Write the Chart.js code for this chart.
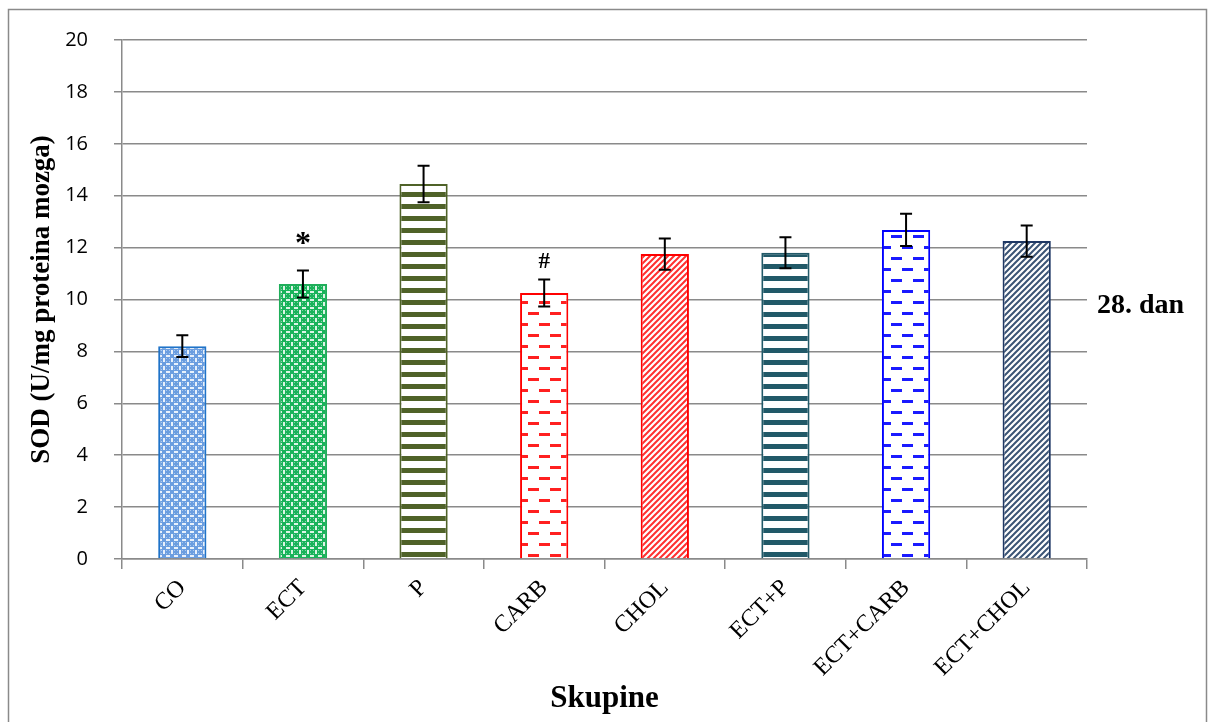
<!DOCTYPE html>
<html>
<head>
<meta charset="utf-8">
<script src="https://cdn.jsdelivr.net/npm/chart.js@4"></script>
<style>
  html, body { margin: 0; padding: 0; background: #fff; }
  #wrap { width: 1208px; height: 722px; }
</style>
</head>
<body>
<div id="wrap"><canvas id="chart" width="1208" height="722"></canvas></div>
<script>
const categories = ["CO", "ECT", "P", "CARB", "CHOL", "ECT+P", "ECT+CARB", "ECT+CHOL"];
const sodValues = [8.2, 10.6, 14.45, 10.25, 11.75, 11.8, 12.68, 12.25];
const sodErrors = [0.42, 0.52, 0.7, 0.52, 0.6, 0.6, 0.62, 0.6];
const marks = ["", "*", "", "#", "", "", "", ""];
const yTicks = [0, 2, 4, 6, 8, 10, 12, 14, 16, 18, 20];

// pattern helpers
function tile(w, h, draw) {
  const c = document.createElement("canvas");
  c.width = w; c.height = h;
  const g = c.getContext("2d");
  draw(g, w, h);
  return document.getElementById("chart").getContext("2d").createPattern(c, "repeat");
}
function lattice(base) {
  return tile(8, 8, (g) => {
    g.fillStyle = base;
    g.fillRect(0, 0, 8, 8);
    g.fillStyle = "rgba(255,255,255,0.85)";
    g.fillRect(3, 0, 2, 2);
    g.fillRect(3, 6, 2, 2);
    g.fillRect(0, 3, 2, 2);
    g.fillRect(6, 3, 2, 2);
    g.fillStyle = "rgba(255,255,255,0.45)";
    g.fillRect(1, 1, 1, 1); g.fillRect(6, 1, 1, 1);
    g.fillRect(1, 6, 1, 1); g.fillRect(6, 6, 1, 1);
  });
}
function stripes(color) {
  return tile(12, 12, (g) => {
    g.fillStyle = "#fff";
    g.fillRect(0, 0, 12, 12);
    g.fillStyle = color;
    g.fillRect(0, 0, 12, 5);
  });
}
function dashes(color) {
  return tile(22, 22, (g) => {
    g.fillStyle = "#fff";
    g.fillRect(0, 0, 22, 22);
    g.fillStyle = color;
    g.fillRect(0, 4, 11, 3);
    g.fillRect(11, 15, 11, 3);
  });
}
function diagonal(color) {
  return tile(6, 6, (g) => {
    g.fillStyle = "#fff";
    g.fillRect(0, 0, 6, 6);
    g.strokeStyle = color;
    g.lineWidth = 2;
    g.beginPath();
    g.moveTo(-1, 7); g.lineTo(7, -1);
    g.moveTo(-4, 4); g.lineTo(4, -4);
    g.moveTo(2, 10); g.lineTo(10, 2);
    g.stroke();
  });
}

const fills = [
  lattice("#6c9ee0"),
  lattice("#19b35a"),
  stripes("#4f6228"),
  dashes("#ff2020"),
  diagonal("#ff3030"),
  stripes("#215968"),
  dashes("#1a1aff"),
  diagonal("#3b5475")
];
const borders = ["#1f73c8", "#1fae5a", "#4f6228", "#ff0000", "#ff0000", "#215968", "#0000ff", "#1f3864"];

const extras = {
  id: "extras",
  beforeDraw(chart) {
    const ctx = chart.ctx;
    ctx.save();
    ctx.fillStyle = "#fff";
    ctx.fillRect(0, 0, chart.width, chart.height);
    ctx.strokeStyle = "#8a8a8a";
    ctx.lineWidth = 1.5;
    ctx.strokeRect(8.5, 9.5, 1198, 730);
    ctx.restore();
  },
  afterDatasetsDraw(chart) {
    const ctx = chart.ctx;
    const y = chart.scales.y;
    const meta = chart.getDatasetMeta(0);
    ctx.save();
    ctx.strokeStyle = "#000";
    ctx.lineWidth = 2;
    meta.data.forEach((bar, i) => {
      const top = y.getPixelForValue(sodValues[i] + sodErrors[i]);
      const bot = y.getPixelForValue(sodValues[i] - sodErrors[i]);
      ctx.beginPath();
      ctx.moveTo(bar.x, top); ctx.lineTo(bar.x, bot);
      ctx.moveTo(bar.x - 6, top); ctx.lineTo(bar.x + 6, top);
      ctx.moveTo(bar.x - 6, bot); ctx.lineTo(bar.x + 6, bot);
      ctx.stroke();
      if (marks[i]) {
        ctx.fillStyle = "#000";
        ctx.textAlign = "center";
        ctx.textBaseline = "bottom";
        ctx.font = marks[i] === "*" ? "bold 32px 'Liberation Serif'" : "bold 23px 'Liberation Serif'";
        ctx.fillText(marks[i], bar.x, top - (marks[i] === "*" ? 10 : 6));
      }
    });
    ctx.fillStyle = "#000";
    ctx.font = "bold 28px 'Liberation Serif'";
    ctx.textAlign = "left";
    ctx.textBaseline = "middle";
    ctx.fillText("28. dan", chart.chartArea.right + 10, chart.chartArea.top + 266);
    ctx.restore();
  }
};

new Chart(document.getElementById("chart"), {
  type: "bar",
  data: {
    labels: categories,
    datasets: [{
      data: sodValues,
      backgroundColor: fills,
      borderColor: borders,
      borderWidth: 2,
      barPercentage: 0.8,
      categoryPercentage: 0.5
    }]
  },
  options: {
    responsive: false,
    animation: false,
    layout: { padding: { left: 26, right: 121, top: 40, bottom: 4 } },
    plugins: { legend: { display: false }, tooltip: { enabled: false } },
    scales: {
      x: {
        offset: true,
        afterFit(scale) { scale.height = 159; },
        grid: { offset: true, drawOnChartArea: false, tickLength: 10, color: "#8a8a8a", lineWidth: 1.5 },
        border: { color: "#8a8a8a", width: 1.5 },
        ticks: {
          maxRotation: 45, minRotation: 45, padding: 5,
          color: "#000",
          font: { family: "'Liberation Serif'", size: 24 }
        },
        title: {
          display: true, text: "Skupine", color: "#000",
          font: { family: "'Liberation Serif'", size: 31, weight: "bold" },
          padding: { top: 0, bottom: 0 }
        }
      },
      y: {
        min: 0, max: 20,
        afterFit(scale) { scale.width = 96; },
        afterBuildTicks(scale) { scale.ticks = yTicks.map((v) => ({ value: v })); },
        grid: { color: "#8a8a8a", lineWidth: 1.5, tickLength: 8 },
        border: { color: "#8a8a8a", width: 1.5 },
        ticks: {
          color: "#000", padding: 26,
          font: { family: "'Open Sans'", size: 20 }
        },
        title: {
          display: true, text: "SOD (U/mg proteina mozga)", color: "#000",
          font: { family: "'Liberation Serif'", size: 27, weight: "bold" },
          padding: { top: 0, bottom: 0 }
        }
      }
    }
  },
  plugins: [extras]
});
</script>
</body>
</html>
